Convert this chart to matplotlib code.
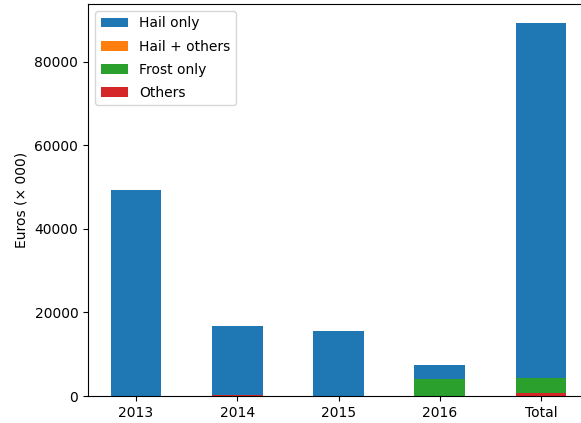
import numpy as np
import matplotlib.pyplot as plt

years = ['2013', '2014', '2015', '2016', 'Total']
hail_only = [49300, 16500, 15550, 3350, 85000]
hail_others = [0, 0, 0, 0, 0]
frost_only = [0, 0, 0, 4150, 3550]
others = [0, 250, 0, 0, 800]

fig = plt.figure(figsize=(5.81, 4.23), dpi=100)
# axes run a little past the right edge of the figure
ax = fig.add_axes([88 / 581, 27 / 423, 501 / 581, 392 / 423])

x = np.arange(len(years))
w = 0.5
bottom = np.zeros(len(years))
series = [
    (others, 'Others', '#d62728'),
    (frost_only, 'Frost only', '#2ca02c'),
    (hail_others, 'Hail + others', '#ff7f0e'),
    (hail_only, 'Hail only', '#1f77b4'),
]
handles = {}
for vals, name, col in series:
    vals = np.array(vals, dtype=float)
    b = ax.bar(x, vals, w, bottom=bottom, color=col, label=name)
    handles[name] = b
    bottom += vals

order = ['Hail only', 'Hail + others', 'Frost only', 'Others']
ax.legend([handles[n] for n in order], order, loc='upper left',
          labelspacing=0.65)

ax.set_xticks(x)
ax.set_xticklabels(years)
ax.set_xlim(-0.474, 4.474)
ax.set_ylim(0, max(bottom) * 1.05)
ax.set_ylabel('Euros (× 000)')

fig.savefig('out.png', dpi=100)
